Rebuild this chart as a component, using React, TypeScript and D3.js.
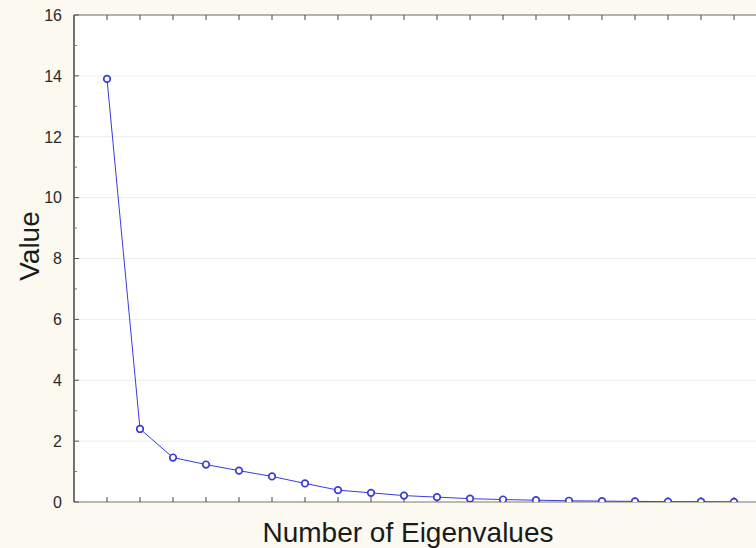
import React from 'react';
import * as d3 from 'd3';

const width = 756;
const height = 548;
const margin = {top: 15, right: -11, bottom: 46, left: 74};
const lineBlue = '#3b3bdc';

// eigenvalue number 1..20 and the values
const eigenNumbers = d3.range(1, 21);
const eigenValues = [13.9, 2.4, 1.46, 1.23, 1.03, 0.84, 0.61, 0.39, 0.3, 0.21,
  0.16, 0.11, 0.08, 0.06, 0.04, 0.03, 0.02, 0.01, 0.01, 0.005];
const yTicks = [0, 2, 4, 6, 8, 10, 12, 14, 16];
const yMinorTicks = [1, 3, 5, 7, 9, 11, 13, 15];

const x = d3.scaleLinear().domain([0, 21]).range([margin.left, width - margin.right]);
const y = d3.scaleLinear().domain([0, 16]).range([height - margin.bottom, margin.top]);

const App = () => {
  const points = eigenNumbers.map((n, i) => ({n, v: eigenValues[i]}));
  const line = d3.line<{n: number, v: number}>().x(d => x(d.n)).y(d => y(d.v));
  const x0 = x(0), x1 = x(21), y0 = y(0), y1 = y(16);

  return (
    <svg width={width} height={height} style={{position: 'absolute', left: 0, top: 0}}
      fontFamily="Liberation Sans, Arial, sans-serif">
      <rect width={width} height={height} fill='#fcf9f1' />
      <rect x={x0} y={y1} width={x1 - x0} height={y0 - y1} fill='#fff' />
      <defs>
        <clipPath id='plot'>
          <rect x={x0} y={y1} width={x1 - x0} height={y0 - y1} />
        </clipPath>
      </defs>
      {/* grid */}
      {yTicks.slice(1, -1).map(t => (
        <line key={t} x1={x0} x2={x1} y1={y(t)} y2={y(t)} stroke='#ececec' strokeWidth={1} />
      ))}
      {/* frame */}
      <line x1={x0} x2={x1} y1={y1} y2={y1} stroke='#9a9a94' strokeWidth={1.5} />
      <line x1={x0} x2={x1} y1={y0} y2={y0} stroke='#a8a496' strokeWidth={1.5} />
      <line x1={x0} x2={x0} y1={y1} y2={y0} stroke='#444' strokeWidth={1.5} />
      {/* y ticks */}
      {yTicks.map(t => (
        <g key={t}>
          <line x1={x0} x2={x0 + 5} y1={y(t)} y2={y(t)} stroke='#555' />
          <text x={62} y={y(t)} dy='0.36em' textAnchor='end' fontSize={16} fill='#2a2a2a'>{t}</text>
        </g>
      ))}
      {yMinorTicks.map(t => (
        <line key={t} x1={x0} x2={x0 + 3} y1={y(t)} y2={y(t)} stroke='#777' />
      ))}
      {/* x ticks top and bottom */}
      {eigenNumbers.map(n => (
        <g key={n}>
          <line x1={x(n)} x2={x(n)} y1={y0} y2={y0 - 5} stroke='#444' />
          <line x1={x(n)} x2={x(n)} y1={y1} y2={y1 + 5} stroke='#444' />
        </g>
      ))}
      <g clipPath='url(#plot)'>
        <path d={line(points) || ''} fill='none' stroke={lineBlue} strokeWidth={1} />
        {points.map(d => (
          <circle key={d.n} cx={x(d.n)} cy={y(d.v)} r={3.3} fill='#fff' stroke={lineBlue} strokeWidth={1.7} />
        ))}
      </g>
      <text x={408} y={542} textAnchor='middle' fontSize={28} fill='#1a1a1a'>Number of Eigenvalues</text>
      <text transform={`translate(39, 246) rotate(-90)`} textAnchor='middle' fontSize={28} fill='#1a1a1a'>Value</text>
    </svg>
  );
};

export default App;
